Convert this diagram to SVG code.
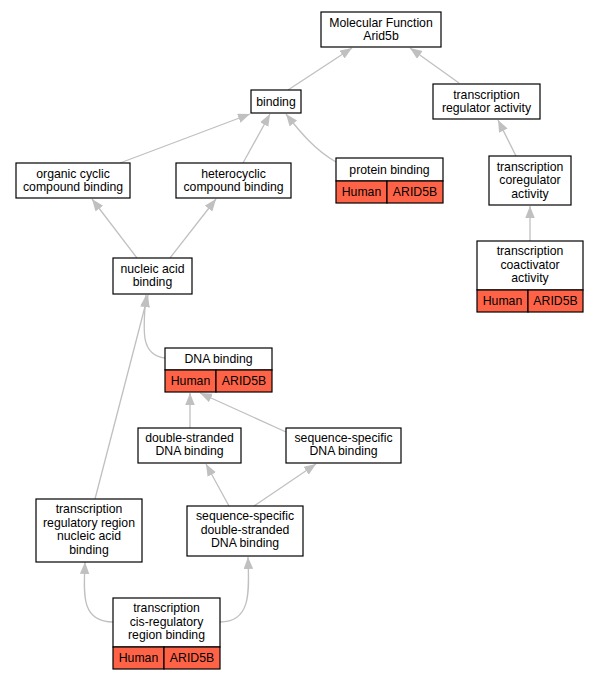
<svg xmlns="http://www.w3.org/2000/svg" width="600" height="680" viewBox="0 0 600 680">
<style>
text{font-family:"Liberation Sans",Arial,sans-serif;font-size:12.25px;text-anchor:middle;fill:#000}
.b{fill:#fff;stroke:#000;stroke-width:1.2}
.r{fill:#ff6347;stroke:#000;stroke-width:1.2}
.e{fill:none;stroke:#c0c0c0;stroke-width:1.3;marker-end:url(#a)}
</style>
<defs>
<marker id="a" markerUnits="userSpaceOnUse" markerWidth="14" markerHeight="11" refX="12" refY="4.75" orient="auto">
<path d="M0,0 L12,4.75 L0,9.5 z" fill="#c0c0c0"/>
</marker>
</defs>
<rect width="600" height="680" fill="#fff"/>
<g id="edges">
<path class="e" d="M288,90 L352,48"/>
<path class="e" d="M459,83 L410,48"/>
<path class="e" d="M120,163 L250,114"/>
<path class="e" d="M243,163 L270,114"/>
<path class="e" d="M336,162 C315,150 300,132 286,114"/>
<path class="e" d="M516,156 L498,120"/>
<path class="e" d="M530,241 L530,206"/>
<path class="e" d="M137,258 L92,199"/>
<path class="e" d="M170,258 L216,199"/>
<path class="e" d="M165,358 C140,355 143,330 146,295"/>
<path class="e" d="M95,499 L148,295"/>
<path class="e" d="M190,428 L190,393"/>
<path class="e" d="M286,432 L200,393"/>
<path class="e" d="M229,506 L206,464"/>
<path class="e" d="M254,506 L316,464"/>
<path class="e" d="M113,622 C80,622 84,592 85,562"/>
<path class="e" d="M220,622 C252,622 249,590 248,557"/>
</g>
<g id="n_mf"><rect class="b" x="321" y="12" width="120" height="35"/><text x="381" y="26.5">Molecular Function</text><text x="381" y="39.5">Arid5b</text></g>
<g id="n_tra"><rect class="b" x="433" y="84" width="107" height="35"/><text x="486.5" y="98.5">transcription</text><text x="486.5" y="111.5">regulator activity</text></g>
<g id="n_binding"><rect class="b" x="251" y="90" width="50" height="23"/><text x="276" y="105.5">binding</text></g>
<g id="n_occ"><rect class="b" x="16" y="163" width="114" height="35"/><text x="73" y="177.5">organic cyclic</text><text x="73" y="190.5">compound binding</text></g>
<g id="n_hcc"><rect class="b" x="176" y="163" width="115" height="35"/><text x="233.5" y="177.5">heterocyclic</text><text x="233.5" y="190.5">compound binding</text></g>
<g id="n_pb"><rect class="b" x="336" y="158" width="107" height="23"/><text x="389.5" y="173.5">protein binding</text><rect class="r" x="336" y="181" width="51" height="22"/><rect class="r" x="387" y="181" width="56" height="22"/><text x="361.5" y="196">Human</text><text x="415" y="196">ARID5B</text></g>
<g id="n_tcr"><rect class="b" x="489" y="156" width="82" height="49"/><text x="530" y="170.5">transcription</text><text x="530" y="184">coregulator</text><text x="530" y="197.5">activity</text></g>
<g id="n_tca"><rect class="b" x="477" y="241" width="106" height="49"/><text x="530" y="255">transcription</text><text x="530" y="268.5">coactivator</text><text x="530" y="282">activity</text><rect class="r" x="477" y="290" width="51" height="22"/><rect class="r" x="528" y="290" width="55" height="22"/><text x="502.5" y="305">Human</text><text x="555.5" y="305">ARID5B</text></g>
<g id="n_nab"><rect class="b" x="113" y="258" width="79" height="36"/><text x="152.5" y="272.5">nucleic acid</text><text x="152.5" y="285.5">binding</text></g>
<g id="n_dna"><rect class="b" x="165" y="348" width="107" height="22"/><text x="218.5" y="362.5">DNA binding</text><rect class="r" x="165" y="370" width="51" height="22"/><rect class="r" x="216" y="370" width="56" height="22"/><text x="190.5" y="385">Human</text><text x="244" y="385">ARID5B</text></g>
<g id="n_ds"><rect class="b" x="138" y="428" width="103" height="35"/><text x="189.5" y="442">double-stranded</text><text x="189.5" y="455">DNA binding</text></g>
<g id="n_ss"><rect class="b" x="286" y="428" width="115" height="35"/><text x="343.5" y="442">sequence-specific</text><text x="343.5" y="455">DNA binding</text></g>
<g id="n_trr"><rect class="b" x="36" y="499" width="106" height="63"/><text x="89" y="513">transcription</text><text x="89" y="526.5">regulatory region</text><text x="89" y="540">nucleic acid</text><text x="89" y="553.5">binding</text></g>
<g id="n_ssds"><rect class="b" x="187" y="506" width="116" height="50"/><text x="245" y="520">sequence-specific</text><text x="245" y="533.5">double-stranded</text><text x="245" y="547">DNA binding</text></g>
<g id="n_cis"><rect class="b" x="113" y="598" width="107" height="49"/><text x="166.5" y="612">transcription</text><text x="166.5" y="625.5">cis-regulatory</text><text x="166.5" y="639">region binding</text><rect class="r" x="113" y="647" width="51" height="22"/><rect class="r" x="164" y="647" width="56" height="22"/><text x="138.5" y="662">Human</text><text x="192" y="662">ARID5B</text></g>
</svg>
